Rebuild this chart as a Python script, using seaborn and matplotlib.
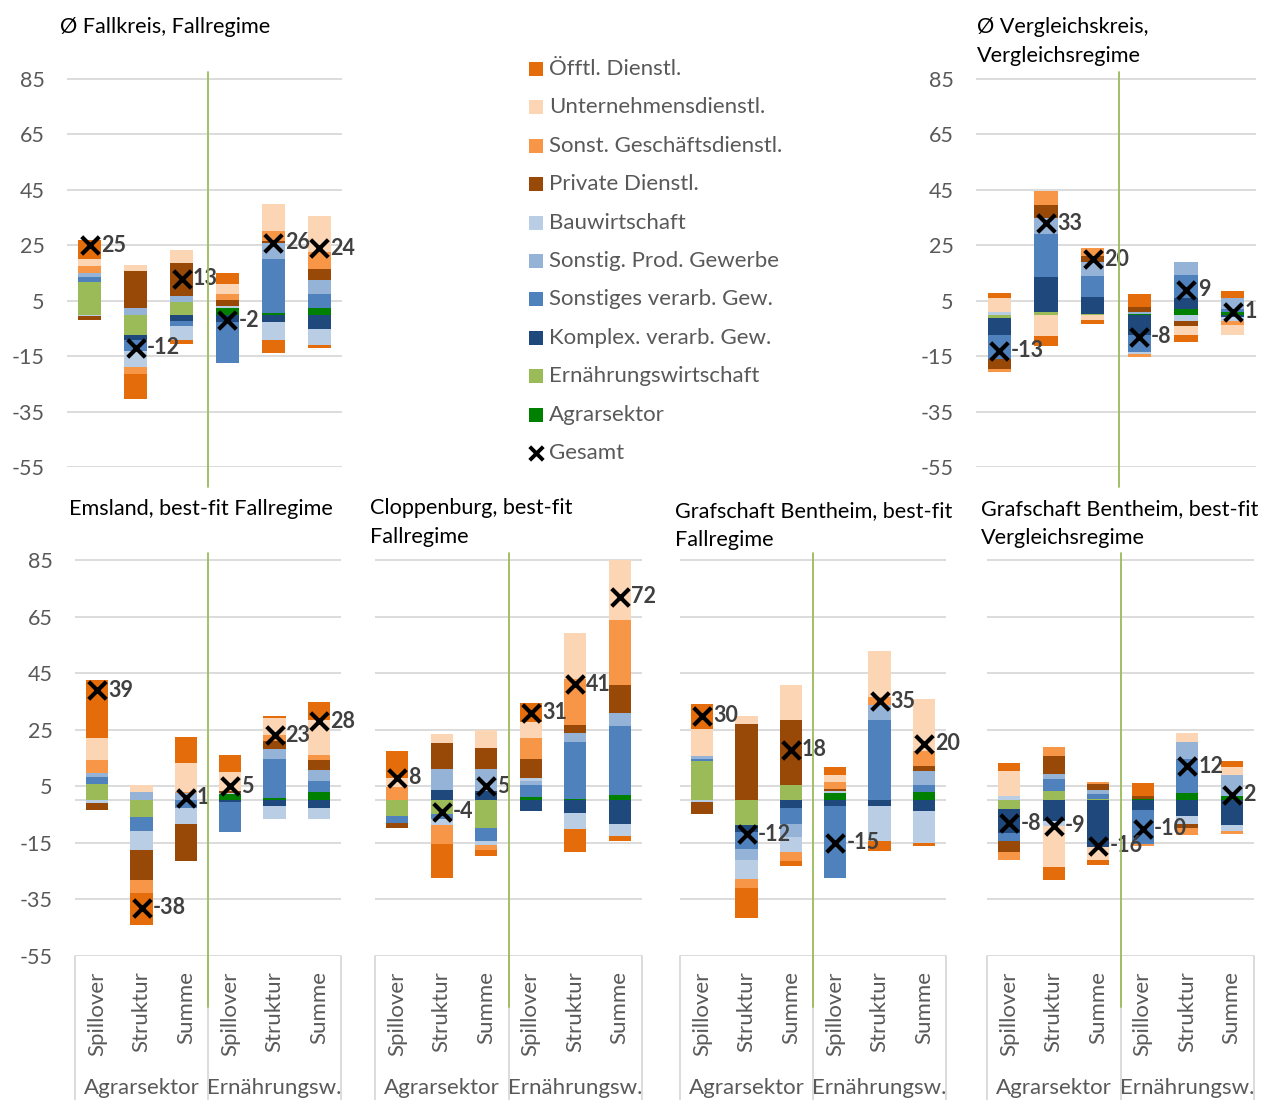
import numpy as np
import matplotlib
matplotlib.use("Agg")
import matplotlib.pyplot as plt
import seaborn as sns

# sectors in stacking order (from the zero line outwards)
sektoren = ["Agrarsektor", "Ernährungswirtschaft", "Komplex. verarb. Gew.",
            "Sonstiges verarb. Gew.", "Sonstig. Prod. Gewerbe", "Bauwirtschaft",
            "Private Dienstl.", "Sonst. Geschäftsdienstl.", "Unternehmensdienstl.",
            "Öfftl. Dienstl."]
farben = ["#008000", "#9BBB59", "#1F497D", "#4F81BD", "#95B3D7", "#B9CDE5",
          "#984807", "#F79646", "#FCD5B5", "#E46C0A"]
balken = ["Spillover", "Struktur", "Summe", "Spillover", "Struktur", "Summe"]
gruppen = ["Agrarsektor", "Ernährungsw."]

# one row per sector (order as in sektoren), one column per bar
fallkreis = [
    [0, 0, 0, 2.3, 0.5, 2.5],
    [11.8, -7.2, 4.7, 0, 0, 0],
    [0, -1.9, -2.2, -2.5, -2.6, -5.2],
    [1.9, -4.0, -2.0, -14.8, 19.5, 4.9],
    [1.4, 2.5, 2.0, 0, 5.8, 5.1],
    [-0.6, -5.9, -4.8, 0.8, -6.5, -5.8],
    [-1.5, 13.4, 12.0, 2.2, 0.8, 4.0],
    [2.5, -2.6, 0, 2.0, 3.6, 5.9],
    [2.3, 2.0, 4.6, 3.6, 9.6, 13.2],
    [7.0, -8.9, -1.7, 4.0, -4.9, -1.0],
]
fallkreis_ges = [25, -12, 13, -2, 26, 24]

vergleichskreis = [
    [0, 0, 0, 0.3, 1.9, 0.9],
    [-1.3, 0.8, 0.2, 0, 0, 0],
    [-6.0, 12.7, 6.1, -7.4, 4.2, -1.0],
    [-8.6, 15.4, 7.6, -6.0, 8.0, 1.2],
    [0, 5.8, 5.2, 0.7, 4.8, 4.0],
    [0.8, 0, 0, -0.8, -2.4, -1.2],
    [-3.7, 5.0, 2.2, 1.6, -1.7, 0],
    [-1.1, 5.0, 2.9, -1.0, 0, -1.4],
    [5.0, -7.6, -2.0, 0, -3.4, -3.6],
    [2.0, -3.8, -1.4, 5.0, -2.3, 2.5],
]
vergleichskreis_ges = [-13, 33, 20, -8, 9, 1]

emsland = [
    [0, 0, 0, 2.4, 0.7, 3.1],
    [5.9, -5.9, 0, 0, 0, 0],
    [0, 0, 0, -0.5, -1.8, -2.6],
    [2.5, -4.9, -2.6, -10.6, 14.0, 3.7],
    [1.3, 2.9, 2.7, 0, 3.5, 3.8],
    [-0.8, -6.8, -5.7, 0.4, -4.7, -4.1],
    [-2.7, -10.5, -13.2, 0.7, 2.9, 3.7],
    [4.7, -4.7, 0.4, -0.2, 2.0, 1.6],
    [7.5, 2.5, 10.0, 6.5, 6.0, 12.4],
    [20.7, -11.1, 9.5, 6.0, 0.7, 6.5],
]
emsland_ges = [39, -38, 1, 5, 23, 28]

cloppenburg = [
    [0, 0, 0, 1.1, 0.5, 1.8],
    [-5.4, -4.7, -9.9, 0, 0, 0],
    [0, 3.8, 3.5, -3.8, -4.5, -8.2],
    [-2.6, -1.9, -4.4, 4.5, 20.1, 24.6],
    [0, 7.4, 7.5, 1.2, 3.2, 4.5],
    [0, -2.0, -1.6, 1.2, -5.5, -4.2],
    [-1.7, 9.1, 7.4, 6.8, 2.9, 9.8],
    [4.7, -6.7, -1.5, 7.1, 16.1, 23.2],
    [3.4, 3.3, 6.4, 5.9, 16.5, 21.2],
    [9.5, -12.1, -2.4, 6.7, -8.4, -1.8],
]
cloppenburg_ges = [8, -4, 5, 31, 41, 72]

bentheim_fall = [
    [0, 0, 0, 2.6, 0.3, 2.9],
    [14.1, -8.7, 5.5, 0, 0, 0],
    [0, -2.5, -2.8, -1.8, -1.8, -3.8],
    [0.6, -6.1, -5.7, -25.8, 28.3, 2.4],
    [1.0, -3.9, -4.4, 0, 5.3, 5.2],
    [-0.6, -6.7, -5.3, 0.9, -12.6, -11.4],
    [-4.1, 27.1, 23.0, 0.6, 0, 1.5],
    [0, -3.2, -3.1, 2.4, 2.7, 5.3],
    [9.5, 2.8, 12.4, 2.6, 16.4, 18.5],
    [9.0, -10.6, -2.0, 2.8, -3.5, -0.9],
]
bentheim_fall_ges = [30, -12, 18, -15, 35, 20]

bentheim_vergl = [
    [0, 0, 0, 0.6, 2.6, 1.6],
    [-3.0, 3.5, 0.6, 0, 0, 0],
    [-8.5, -7.4, -16.3, -3.5, -5.4, -8.6],
    [-2.7, 4.1, 1.8, -11.8, 12.0, 0],
    [0, 1.8, 1.4, 0, 6.2, 7.5],
    [1.4, -1.5, 0, 0, -2.8, -2.1],
    [-4.1, 6.4, 2.0, 1.1, -1.5, 0],
    [-2.7, 3.1, 0.6, -0.8, -2.4, -1.1],
    [9.0, -14.6, -4.7, 0, 2.9, 2.6],
    [2.7, -4.5, -2.0, 4.5, 0, 2.1],
]
bentheim_vergl_ges = [-8, -9, -16, -10, 12, 2]

sns.set_theme(style="white")
plt.rcParams["font.family"] = ["Lato", "DejaVu Sans"]
plt.rcParams["axes.unicode_minus"] = False

W, H = 1264, 1100
fig = plt.figure(figsize=(W / 100, H / 100), dpi=100)
GRID = "#d9d9d9"
TXT = "#595959"
FS = 16
YMIN, YMAX = -55, 88


def add_panel(left, right, y85, ym55):
    # place axes so that 85 and -55 land on the given pixel rows
    scale = (ym55 - y85) / 140
    top = y85 - (YMAX - 85) * scale
    return fig.add_axes([left / W, 1 - ym55 / H, (right - left) / W, (ym55 - top) / H])


def draw_panel(ax, werte, gesamt, show_y, show_x, zero_line):
    werte = np.array(werte, dtype=float)
    pos = np.clip(werte, 0, None)
    neg = np.clip(werte, None, 0)
    pos_bot = np.vstack([np.zeros(6), np.cumsum(pos, axis=0)[:-1]])
    neg_bot = np.vstack([np.zeros(6), np.cumsum(neg, axis=0)[:-1]])
    x = list(range(6))
    for i, farbe in enumerate(farben):
        for h, b in ((pos[i], pos_bot[i]), (neg[i], neg_bot[i])):
            sns.barplot(x=x, y=h, bottom=b, color=farbe, saturation=1, width=0.5,
                        errorbar=None, linewidth=0, ax=ax, zorder=2)
    sns.scatterplot(x=x, y=gesamt, marker="x", s=160, color="black", linewidth=3,
                    ax=ax, zorder=5, legend=False)
    for i, g in enumerate(gesamt):
        ax.text(i + 0.25, g, f"{g}", va="center", ha="left", fontsize=15.5,
                fontweight="bold", color="#404040", zorder=6)
    ax.set_xlim(-0.5, 5.5)
    ax.set_ylim(YMIN, YMAX)
    ax.set_yticks(range(-55, 86, 20))
    ax.grid(axis="y", color=GRID, lw=1.3)
    ax.grid(axis="x", visible=False)
    ax.set_axisbelow(True)
    if zero_line:
        ax.axhline(0, color=GRID, lw=1.3, zorder=1)
    for s in ax.spines.values():
        s.set_visible(False)
    ax.set_xlabel("")
    ax.set_ylabel("")
    ax.set_xticks(x)
    ax.set_xticklabels(balken, rotation=90, va="top", ha="center")
    ax.tick_params(axis="y", length=0, pad=16, labelsize=15.5, labelcolor=TXT,
                   labelleft=show_y)
    ax.tick_params(axis="x", length=0, pad=11, labelsize=FS, labelcolor=TXT,
                   labelbottom=show_x)


panels = [
    (fallkreis, fallkreis_ges, (67, 342, 79, 467), True, False),
    (vergleichskreis, vergleichskreis_ges, (976, 1256, 79, 467), True, False),
    (emsland, emsland_ges, (75, 341, 560, 956), True, True),
    (cloppenburg, cloppenburg_ges, (375, 642, 560, 956), False, True),
    (bentheim_fall, bentheim_fall_ges, (680, 946, 560, 956), False, True),
    (bentheim_vergl, bentheim_vergl_ges, (987, 1254, 560, 956), False, True),
]
for werte, ges, (l, r, t, b), show_y, unten in panels:
    ax = add_panel(l, r, t, b)
    draw_panel(ax, werte, ges, show_y, unten, unten)

# overlay in pixel coordinates for titles, legend, separators
ov = fig.add_axes([0, 0, 1, 1], facecolor="none")
ov.set_xlim(0, W)
ov.set_ylim(H, 0)
ov.axis("off")

for werte, ges, (l, r, t, b), show_y, unten in panels:
    mid = (l + r) / 2
    if unten:
        ov.plot([mid, mid], [553, 1007], color="#9BBB59", lw=1.3)
        for xx in (l, mid, r):
            ov.plot([xx, xx], [b, H], color=GRID, lw=1.3, zorder=0)
        ov.text((l + mid) / 2, 1088, gruppen[0], ha="center", va="center",
                fontsize=FS, color=TXT)
        ov.text((mid + r) / 2, 1088, gruppen[1], ha="center", va="center",
                fontsize=FS, color=TXT)
    else:
        ov.plot([mid + 3, mid + 3], [72, 487], color="#9BBB59", lw=1.3)

titel = [
    (60, [27], ["Ø Fallkreis, Fallregime"]),
    (977, [27, 56], ["Ø Vergleichskreis,", "Vergleichsregime"]),
    (69, [509], ["Emsland, best-fit Fallregime"]),
    (370, [508, 537], ["Cloppenburg, best-fit", "Fallregime"]),
    (675, [511, 540], ["Grafschaft Bentheim, best-fit", "Fallregime"]),
    (981, [509, 538], ["Grafschaft Bentheim, best-fit", "Vergleichsregime"]),
]
for x0, ys, zeilen in titel:
    for y0, z in zip(ys, zeilen):
        ov.text(x0, y0, z, ha="left", va="center", fontsize=15.6, color="black")

# legend
leg_labels = list(reversed(sektoren)) + ["Gesamt"]
leg_colors = list(reversed(farben)) + ["black"]
for k, (lab, col) in enumerate(zip(leg_labels, leg_colors)):
    y0 = 69 + k * 38.4
    if lab == "Gesamt":
        ov.scatter([536], [y0], marker="x", s=95, color=col, linewidths=2.8)
    else:
        ov.scatter([536], [y0], marker="s", s=95, color=col, linewidths=0)
    ov.text(549, y0, lab, ha="left", va="center", fontsize=FS, color=TXT)

fig.savefig("out.png", dpi=100)
